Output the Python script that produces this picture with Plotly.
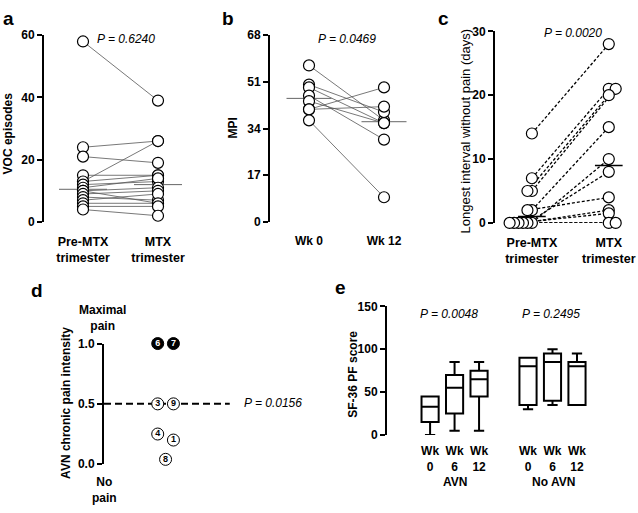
import numpy as np
import plotly.graph_objects as go

FONT = "Liberation Sans, Arial, sans-serif"

# a: VOC episodes, paired per patient
voc_pre = [58, 24, 21, 13, 15, 13, 12, 11, 10, 10, 9, 8, 7, 6, 5, 4]
voc_mtx = [39, 26, 19, 26, 15, 15, 13, 14, 11, 6, 10, 7, 9, 6, 5, 2]
voc_ticks = ["Pre-MTX<br>trimester", "MTX<br>trimester"]
voc_p = "P = 0.6240"

# b: MPI, paired per patient
mpi_wk0 = [57, 50, 49, 46, 44, 41, 41, 37]
mpi_wk12 = [37, 40, 36, 30, 36, 49, 42, 9]
mpi_ticks = ["Wk 0", "Wk 12"]
mpi_p = "P = 0.0469"

# c: longest interval without pain (days), paired per patient
free_pre = [14, 7, 5, 5, 2, 2, 0, 0, 0, 0, 0, 0]
free_mtx = [28, 21, 21, 20, 15, 4, 10, 8, 2, 1.5, 0, 0]
free_ticks = ["Pre-MTX<br>trimester", "MTX<br>trimester"]
free_p = "P = 0.0020"

# d: AVN chronic pain intensity per patient
avn_patient = [6, 7, 3, 9, 4, 1, 8]
avn_intensity = [1.0, 1.0, 0.5, 0.5, 0.25, 0.2, 0.04]
avn_side = ["L", "R", "L", "R", "L", "R", "M"]
avn_level = 0.5
avn_p = "P = 0.0156"

# e: SF-36 PF score boxes
sf_group = ["AVN", "AVN", "AVN", "No AVN", "No AVN", "No AVN"]
sf_week = ["0", "6", "12", "0", "6", "12"]
sf_low = [0, 5, 5, 30, 35, 35]
sf_q1 = [15, 25, 45, 35, 40, 35]
sf_med = [33, 55, 65, 80, 85, 80]
sf_q3 = [45, 70, 75, 90, 95, 85]
sf_high = [45, 85, 85, 90, 100, 95]
sf_p = ["P = 0.0048", "P = 0.2495"]

W, H = 638, 513


def fx(p):
    return p / W


def fy(p):
    return 1 - p / H


def spread(values, step):
    # nudge repeated values sideways so the circles stay visible
    seen, out = {}, []
    for v in values:
        k = seen.get(v, 0)
        out.append(k * step)
        seen[v] = k + 1
    return out


fig = go.Figure()


def paired(n, before, after, line, med_line, med_half, jit_b=None, jit_a=None):
    xa, ya = ("x" if n == 1 else "x%d" % n), ("y" if n == 1 else "y%d" % n)
    jit_b = jit_b or [0] * len(before)
    jit_a = jit_a or [0] * len(after)
    xb = [0 + j for j in jit_b]
    xm = [1 + j for j in jit_a]
    xs, ys = [], []
    for i in range(len(before)):
        xs += [xb[i], xm[i], None]
        ys += [before[i], after[i], None]
    fig.add_trace(go.Scatter(x=xs, y=ys, mode="lines", line=line,
                             xaxis=xa, yaxis=ya, hoverinfo="skip", cliponaxis=False))
    for c, vals in ((0, before), (1, after)):
        m = float(np.median(vals))
        fig.add_trace(go.Scatter(x=[c - med_half, c + med_half], y=[m, m], mode="lines",
                                 line=med_line, xaxis=xa, yaxis=ya, cliponaxis=False))
    fig.add_trace(go.Scatter(x=xb + xm, y=list(before) + list(after), mode="markers",
                             marker=dict(symbol="circle", size=11, color="white",
                                         line=dict(color="black", width=1.2)),
                             xaxis=xa, yaxis=ya, cliponaxis=False))


thin = dict(color="#555555", width=0.8)
paired(1, voc_pre, voc_mtx, thin, dict(color="#666666", width=1), 0.32)
paired(2, mpi_wk0, mpi_wk12, thin, dict(color="#666666", width=1), 0.3)
paired(3, free_pre, free_mtx, dict(color="black", width=1.3, dash="3px,2px"),
       dict(color="black", width=1.5), 0.18,
       spread(free_pre, -0.058), spread(free_mtx, 0.09))

# d
side_x = {"L": 0.41, "R": 0.53, "M": 0.47}
fig.add_trace(go.Scatter(x=[0, 0.96], y=[avn_level, avn_level], mode="lines",
                         line=dict(color="black", width=2, dash="7px,4px"),
                         xaxis="x4", yaxis="y4", cliponaxis=False))
filled = [v >= 1.0 for v in avn_intensity]
fig.add_trace(go.Scatter(
    x=[side_x[s] for s in avn_side], y=avn_intensity, mode="markers+text",
    text=[str(p) for p in avn_patient], textposition="middle center",
    textfont=dict(family=FONT, size=9, weight="bold",
                  color=["white" if f else "black" for f in filled]),
    marker=dict(symbol="circle", size=12,
                color=["black" if f else "white" for f in filled],
                line=dict(color="black", width=1)),
    xaxis="x4", yaxis="y4", cliponaxis=False))

# e
sf_x = [i + (1 if g == "No AVN" else 0) for i, g in enumerate(sf_group)]
fig.add_trace(go.Box(x=sf_x, q1=sf_q1, median=sf_med, q3=sf_q3,
                     lowerfence=sf_low, upperfence=sf_high, width=0.7,
                     whiskerwidth=0.6, fillcolor="white",
                     line=dict(color="black", width=2), boxpoints=False,
                     xaxis="x5", yaxis="y5", hoverinfo="skip"))

tickfont = dict(family=FONT, size=12, color="black", weight="bold")
yax = dict(showline=True, linecolor="black", linewidth=2, ticks="outside", ticklen=5,
           tickwidth=2, tickcolor="black", showgrid=False, zeroline=False, tickfont=tickfont)
xax = dict(showline=False, showgrid=False, zeroline=False, ticks="outside", ticklen=8,
           tickcolor="rgba(0,0,0,0)", tickfont=dict(tickfont, size=12.5))

fig.update_layout(
    width=W, height=H, margin=dict(l=0, r=0, t=0, b=0),
    paper_bgcolor="white", plot_bgcolor="white", showlegend=False,
    font=dict(family=FONT, color="black"),
    xaxis=dict(xax, domain=[fx(44), fx(200)], range=[-0.52, 1.56], tickvals=[0, 1],
               ticktext=voc_ticks, anchor="y"),
    yaxis=dict(yax, domain=[fy(221), fy(29)], range=[0, 60], dtick=20, anchor="x"),
    xaxis2=dict(xax, domain=[fx(270), fx(420)], range=[-0.52, 1.48], tickvals=[0, 1],
                ticktext=mpi_ticks, anchor="y2", tickfont=dict(tickfont, size=12)),
    yaxis2=dict(yax, domain=[fy(221), fy(29)], range=[0, 68], dtick=17, anchor="x2"),
    xaxis3=dict(xax, domain=[fx(495), 1], range=[-0.48, 1.38], tickvals=[0, 1],
                ticktext=free_ticks, anchor="y3"),
    yaxis3=dict(yax, domain=[fy(222), fy(25)], range=[0, 30], dtick=10, anchor="x3"),
    xaxis4=dict(domain=[fx(104), fx(235)], range=[0, 1], visible=False, anchor="y4"),
    yaxis4=dict(yax, domain=[fy(470), fy(346)], range=[0, 1], tickvals=[0, 0.5, 1],
                tickformat=".1f", anchor="x4"),
    xaxis5=dict(xax, domain=[fx(387), fx(600)], range=[-1.76, 6.94], tickvals=sf_x,
                ticktext=["Wk<br>" + w for w in sf_week], ticklen=5,
                tickfont=dict(tickfont, size=12), anchor="y5"),
    yaxis5=dict(yax, domain=[fy(440), fy(307.7)], range=[0, 150], dtick=50, anchor="x5"),
)

ann = []


def note(x, y, text, size=12, bold=True, italic=False, angle=0, xanchor="center"):
    ann.append(dict(x=fx(x), y=fy(y), xref="paper", yref="paper", text=text,
                    showarrow=False, textangle=angle, xanchor=xanchor, yanchor="middle",
                    font=dict(family=FONT, size=size, color="black",
                              weight="bold" if bold else "normal",
                              style="italic" if italic else "normal")))


for lab, x, y in (("a", 8, 12), ("b", 228, 12), ("c", 443, 12), ("d", 37, 291), ("e", 340, 288)):
    note(x, y, lab, size=19)

note(8, 130, "VOC episodes", angle=-90)
note(233, 125, "MPI", angle=-90)
note(466, 128, "Longest interval without pain (days)", size=13, bold=False, angle=-90)
note(66, 407, "AVN chronic pain intensity", angle=-90)
note(353, 377, "SF-36 PF score", angle=-90)

note(126, 33, voc_p, bold=False, italic=True)
note(347, 33, mpi_p, bold=False, italic=True)
note(573, 27, free_p, bold=False, italic=True)
note(242, 407, avn_p, bold=False, italic=True, xanchor="left")
note(449, 316, sf_p[0], bold=False, italic=True)
note(551, 316, sf_p[1], bold=False, italic=True)

note(102, 320, "Maximal<br>pain")
note(104, 497, "No<br>pain")
note(455, 488, "AVN")
note(553, 488, "No AVN")

fig.update_layout(annotations=ann)
fig.write_html("out.html", config={"displayModeBar": False},
               post_script="document.body.style.margin='0';")
